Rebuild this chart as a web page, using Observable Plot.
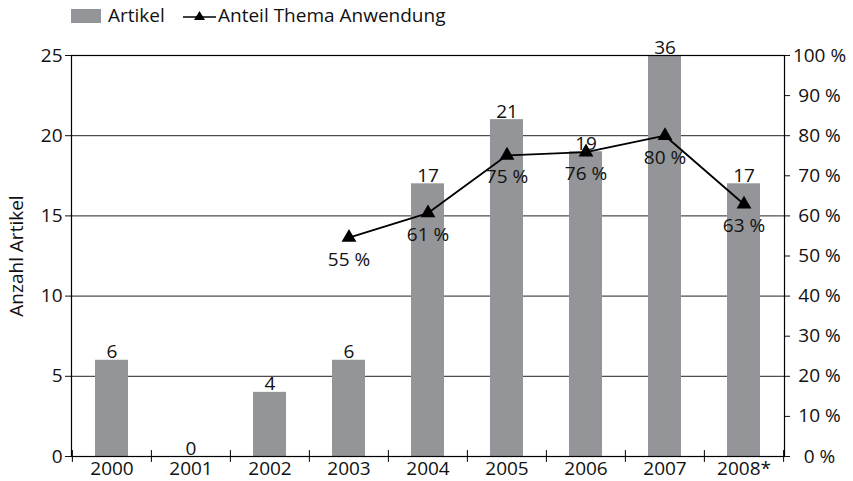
<!DOCTYPE html>
<html><head><meta charset="utf-8">
<script src="https://cdn.jsdelivr.net/npm/d3@7"></script>
<script src="https://cdn.jsdelivr.net/npm/@observablehq/plot@0.6"></script>
<style>
body{margin:0;background:#fff;font-family:"Open Sans",sans-serif;color:#111;}
#legend{position:relative;height:35px;font-size:19px;width:853px;}
#legend .sw{position:absolute;left:71px;top:9px;width:30px;height:14px;background:#939598;}
#legend .t1{position:absolute;left:108px;top:2px;line-height:26px;}
#legend svg{position:absolute;left:183px;top:8px;}
#legend .t2{position:absolute;left:218px;top:2px;line-height:26px;}
</style></head><body>
<div id="legend"><div class="sw"></div><span class="t1">Artikel</span>
<svg width="33" height="16"><line x1="0" y1="9" x2="33" y2="9" stroke="#000" stroke-width="1.5"/><path d="M16.5,3 L22,12 L11,12 Z" fill="#000"/></svg>
<span class="t2">Anteil Thema Anwendung</span></div>
<div id="chart"></div>
<script>
const years = ["2000","2001","2002","2003","2004","2005","2006","2007","2008*"];
const articles = [6,0,4,6,17,21,19,36,17];
const shareYears = ["2003","2004","2005","2006","2007","2008*"];
const shareValues = [54.6,60.7,75.1,75.9,80.0,62.9];
const leftTicks = [0,5,10,15,20,25];
const gridTicks = [5,10,15,20,25];
const rightTicks = [0,10,20,30,40,50,60,70,80,90,100];
const yMax = 25, pctMax = 100;

const W = 853, H = 446, mL = 71, mR = 69, mT = 20, mB = 25;
const bw = (W - mL - mR) / years.length;
const pad = 0.583;
const bars = years.map((y, i) => ({year: y, n: articles[i]}));
const share = shareYears.map((y, i) => ({year: y, p: shareValues[i], v: shareValues[i] * yMax / pctMax}));

const chart = Plot.plot({
  width: W, height: H, marginLeft: mL, marginRight: mR, marginTop: mT, marginBottom: mB,
  style: {fontFamily: "'Open Sans', sans-serif", fontSize: "19px", color: "#111", background: "#fff"},
  x: {type: "band", domain: years, paddingInner: pad, paddingOuter: pad / 2, align: 0.5},
  y: {domain: [0, yMax]},
  marks: [
    Plot.ruleY(gridTicks, {stroke: "#222", strokeWidth: 1}),
    Plot.barY(bars, {x: "year", y: "n", fill: "#939598", clip: true}),
    Plot.frame({stroke: "#000", strokeWidth: 1.2}),
    Plot.ruleX(years, {x: d => d, y1: -0.37, y2: 0.37, dx: -bw / 2, stroke: "#000"}),
    Plot.ruleX([years[years.length - 1]], {x: d => d, y1: -0.37, y2: 0.37, dx: bw / 2, stroke: "#000"}),
    Plot.axisX({tickSize: 0, tickPadding: 5, label: null}),
    Plot.axisY(leftTicks, {anchor: "left", tickSize: 6, tickPadding: 3, label: "Anzahl Artikel", labelAnchor: "center", labelOffset: 62, labelArrow: "none"}),
    Plot.axisY(rightTicks.map(v => v * yMax / pctMax), {anchor: "right", tickSize: 5, tickPadding: 30, textAnchor: "middle", tickFormat: d => Math.round(d * pctMax / yMax) + " %", label: null}),
    Plot.text(bars, {x: "year", y: d => Math.min(d.n, yMax), text: d => String(d.n), dy: -2, lineAnchor: "bottom", fill: "#111"}),
    Plot.line(share, {x: "year", y: "v", stroke: "#000", strokeWidth: 1.8}),
    Plot.dot(share, {x: "year", y: "v", symbol: "triangle", r: 5.5, fill: "#000", stroke: "none"}),
    Plot.text(share, {x: "year", y: "v", text: d => Math.round(d.p) + " %", dy: 22, fill: "#111"})
  ]
});
document.getElementById("chart").appendChild(chart);
</script>
</body></html>
